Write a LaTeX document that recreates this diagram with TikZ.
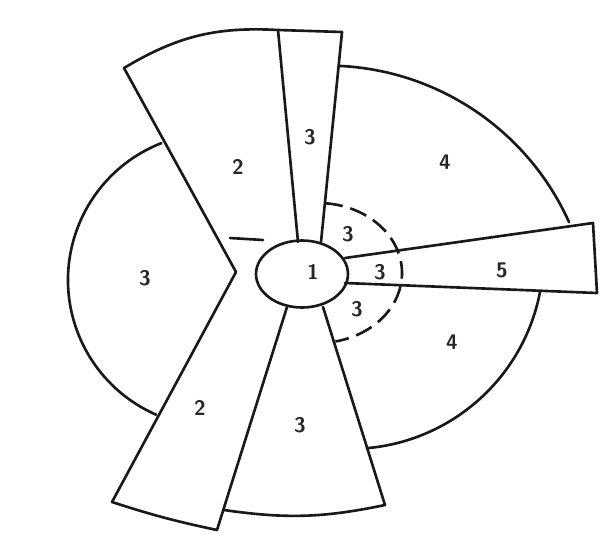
\documentclass[tikz,border=0pt]{standalone}
\usepackage{tikz}
\usetikzlibrary{shapes.geometric}

\begin{document}
\begin{tikzpicture}[
        x=0.02cm, y=-0.02cm,
        font=\sffamily\bfseries\large,
        edge/.style={line width=1.5pt, black!90, line join=round, line cap=round},
        rim/.style={edge, line cap=butt, dash pattern=on 10pt off 4.5pt},
        hubnode/.style={ellipse, draw=black!90, line width=1.5pt, fill=white,
                        minimum width=1.84cm, minimum height=1.34cm, inner sep=0pt},
        zone/.style={inner sep=1pt, text=black!85}
    ]
        \useasboundingbox (0,0) rectangle (601,534);

        %--- Corner points of the blades ---
        \coordinate (ul) at (124,68);
        \coordinate (apex) at (236,272);
        \coordinate (ll) at (112,502);
        \coordinate (lb) at (217,530);
        \coordinate (tl) at (278,30);
        \coordinate (tr) at (342,32);
        \coordinate (tlh) at (298,242);
        \coordinate (trh) at (321,242);
        \coordinate (blh) at (287,307);
        \coordinate (brh) at (323,307);
        \coordinate (bbl) at (224,510);
        \coordinate (bbr) at (385,505);
        \coordinate (fl) at (345,258);
        \coordinate (fr) at (593,223);
        \coordinate (fbr) at (597,293);
        \coordinate (fbl) at (345,283);

        %--- Central hub ---
        \node[hubnode] (hub) at (302,274) {};

        %--- Blades ---
        \draw[edge] (ul) -- (apex) -- (ll) to[bend right=3] (lb) -- (blh);
        \draw[edge] (ul) to[bend left=17] (tl) -- (tr);
        \draw[edge] (tl) -- (tlh);
        \draw[edge] (tr) -- (trh);
        \draw[edge] (brh) -- (bbr);
        \draw[edge] (bbl) to[bend right=10] (bbr);
        \draw[edge] (fl) -- (fr) -- (fbr) -- (fbl);

        %--- Outer arcs ---
        \draw[edge] (215,280) ++(248.6:147) arc[start angle=248.6, end angle=113.6, radius=147];
        \draw[edge] (327,331) ++(-87.2:265.4) arc[start angle=-87.2, end angle=-24.2, radius=265.4];
        \draw[edge] (350,255.4) ++(10.9:193.5) arc[start angle=10.9, end angle=85, radius=193.5];

        %--- Inner dashed ring and short stroke ---
        \draw[rim] (318,273) ++(-85:84 and 70) arc[start angle=-85, end angle=78, x radius=84, y radius=70];
        \coordinate (sa) at (230,238);
        \coordinate (sb) at (263,240);
        \draw[edge] (sa) -- (sb);

        %--- Zone numbers ---
        \node[zone] (n1) at (313,272) {1};
        \node[zone] (n2a) at (238,167) {2};
        \node[zone] (n3t) at (310,137) {3};
        \node[zone] (n4a) at (445,162) {4};
        \node[zone] (n3u) at (348,234) {3};
        \node[zone] (n3m) at (380,272) {3};
        \node[zone] (n5) at (502,270) {5};
        \node[zone] (n3d) at (357,309) {3};
        \node[zone] (n4b) at (452,342) {4};
        \node[zone] (n3l) at (145,278) {3};
        \node[zone] (n2b) at (200,408) {2};
        \node[zone] (n3b) at (300,425) {3};
    \end{tikzpicture}
\end{document}
